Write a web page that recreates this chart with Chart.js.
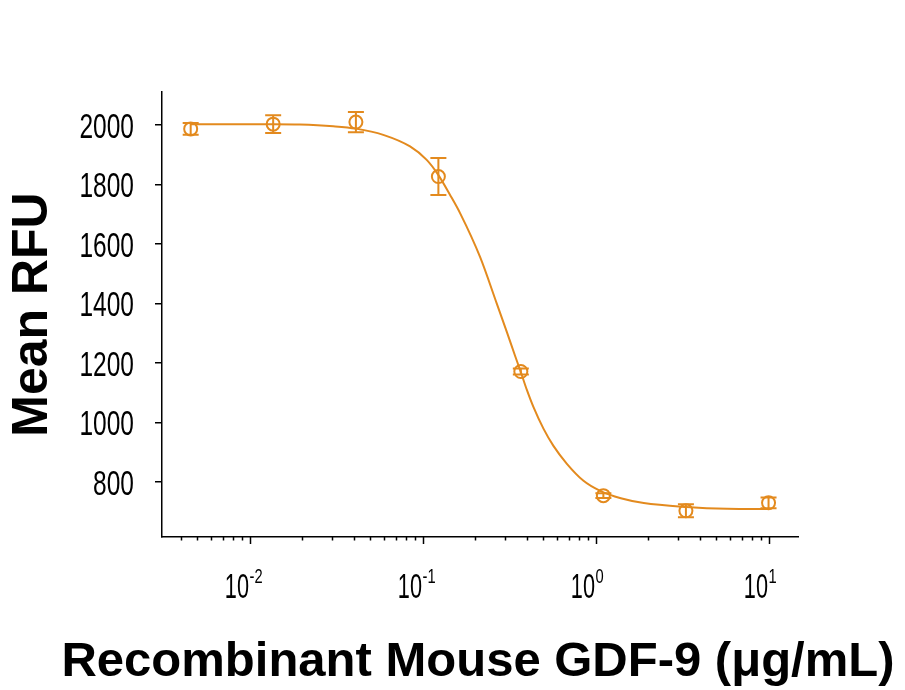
<!DOCTYPE html>
<html>
<head>
<meta charset="utf-8">
<title>GDF-9 dose response</title>
<script src="https://cdn.jsdelivr.net/npm/chart.js@4.4.1/dist/chart.umd.min.js"></script>
<style>
  html, body { margin:0; padding:0; background:#fff; }
  #wrap { width:905px; height:690px; }
</style>
</head>
<body>
<div id="wrap"><canvas id="gdfChart" width="905" height="690"></canvas></div>
<script>
// ============================================================
// Data
// ============================================================
const doses   = [0.00457, 0.0137, 0.0412, 0.1235, 0.370, 1.11, 3.33, 10];
const meanRfu = [1987, 2003, 2010, 1827, 1172, 755, 704, 731];
const errRfu  = [20, 30, 34, 62, 10, 8, 22, 18];

// fitted curve
const fitDoses = [0.00457, 0.0137, 0.0195, 0.0305, 0.0412, 0.0593, 0.0847, 0.1057, 0.1225, 0.1443, 0.1648,
                  0.2153, 0.2687, 0.307, 0.343, 0.370, 0.401, 0.438, 0.500, 0.571, 0.683, 0.852, 1.065,
                  1.40, 1.90, 3.35, 5.76, 10];
const fitRfu   = [2003, 2003, 2002, 1996, 1988, 1967, 1928, 1883, 1835, 1765, 1704,
                  1556, 1400, 1305, 1224, 1170, 1110, 1052, 980, 922, 862, 805, 771,
                  746, 730, 717, 711, 710];

const yTicks      = [800, 1000, 1200, 1400, 1600, 1800, 2000];
const xDecades    = [0.01, 0.1, 1, 10];
const xDecadeExp  = ['-2', '-1', '0', '1'];
const minorSteps  = [2, 3, 4, 5, 6, 7, 8, 9];
const minorBases  = [0.001, 0.01, 0.1, 1];

const xTitle = 'Recombinant Mouse GDF-9 (μg/mL)';
const yTitle = 'Mean RFU';

const ORANGE = '#e38a1e';
const FONT = 'Liberation Sans, Arial, sans-serif';

// draws text squeezed horizontally (the original uses a condensed face)
function squeezeText(ctx, text, x, y, font, sx, align) {
  ctx.save();
  ctx.font = font;
  ctx.fillStyle = '#000';
  ctx.textAlign = align;
  ctx.textBaseline = 'alphabetic';
  ctx.translate(x, y);
  ctx.scale(sx, 1);
  ctx.fillText(text, 0, 0);
  ctx.restore();
}

// error bars, log-axis tick marks, tick labels and x title
const axisDecor = {
  id: 'axisDecor',
  afterDatasetsDraw(chart) {
    const { ctx, scales: { x, y } } = chart;
    ctx.save();
    ctx.strokeStyle = ORANGE;
    ctx.lineWidth = 2;
    doses.forEach((d, i) => {
      const px  = x.getPixelForValue(d);
      const top = y.getPixelForValue(meanRfu[i] + errRfu[i]);
      const bot = y.getPixelForValue(meanRfu[i] - errRfu[i]);
      ctx.beginPath();
      ctx.moveTo(px, top);     ctx.lineTo(px, bot);
      ctx.moveTo(px - 8, top); ctx.lineTo(px + 8, top);
      ctx.moveTo(px - 8, bot); ctx.lineTo(px + 8, bot);
      ctx.stroke();
    });
    ctx.restore();
  },
  afterDraw(chart) {
    const { ctx, scales: { x, y }, chartArea } = chart;
    const base = chartArea.bottom;
    ctx.save();
    ctx.strokeStyle = '#000';
    ctx.lineWidth = 1.5;

    // minor ticks
    minorBases.forEach(b => minorSteps.forEach(m => {
      const v = b * m;
      if (v < x.min || v > x.max) return;
      const px = Math.round(x.getPixelForValue(v)) + 0.5;
      ctx.beginPath(); ctx.moveTo(px, base); ctx.lineTo(px, base + 3.5); ctx.stroke();
    }));
    // major ticks + labels
    xDecades.forEach((v, i) => {
      const px = Math.round(x.getPixelForValue(v)) + 0.5;
      ctx.beginPath(); ctx.moveTo(px, base); ctx.lineTo(px, base + 7); ctx.stroke();
      squeezeText(ctx, '10', px - 1.5, base + 61, '35px ' + FONT, 0.62, 'right');
      squeezeText(ctx, xDecadeExp[i], px - 1, base + 46, '21px ' + FONT, 0.7, 'left');
    });

    // y labels
    yTicks.forEach(v => {
      const py = y.getPixelForValue(v);
      squeezeText(ctx, String(v), chartArea.left - 28, py + 12.5, '35px ' + FONT, 0.7, 'right');
    });

    // x title (drawn here so Chart.js does not squeeze it to the axis width)
    squeezeText(ctx, xTitle, 478, 675.5, 'bold 49px ' + FONT, 1, 'center');
    ctx.restore();
  }
};

new Chart(document.getElementById('gdfChart'), {
  type: 'scatter',
  data: {
    datasets: [
      {
        label: 'fit',
        data: fitDoses.map((d, i) => ({ x: d, y: fitRfu[i] })),
        showLine: true,
        borderColor: ORANGE,
        borderWidth: 2,
        pointRadius: 0,
        cubicInterpolationMode: 'monotone',
        fill: false
      },
      {
        label: 'mean',
        data: doses.map((d, i) => ({ x: d, y: meanRfu[i] })),
        showLine: false,
        pointRadius: 6.5,
        pointHoverRadius: 6.5,
        pointBorderWidth: 2,
        pointBorderColor: ORANGE,
        pointBackgroundColor: 'rgba(0,0,0,0)'
      }
    ]
  },
  options: {
    responsive: false,
    animation: false,
    events: [],
    layout: { padding: { top: 92, right: 107, left: 0, bottom: 0 } },
    plugins: { legend: { display: false }, tooltip: { enabled: false } },
    scales: {
      x: {
        type: 'logarithmic',
        min: 0.00312,
        max: 14.8,
        grid: { display: false },
        border: { color: '#000', width: 1.5 },
        ticks: { display: false },
        afterFit: s => { s.height = 153; }
      },
      y: {
        min: 616,
        max: 2111,
        afterBuildTicks: s => { s.ticks = yTicks.map(v => ({ value: v })); },
        grid: { drawOnChartArea: false, tickLength: 7, color: '#000', lineWidth: 1.5 },
        border: { color: '#000', width: 1.5 },
        ticks: { display: false },
        title: {
          display: true,
          text: yTitle,
          color: '#000',
          font: { family: FONT, size: 50, weight: 'bold' },
          padding: { top: 3, bottom: 0 }
        },
        afterFit: s => { s.width = 162; }
      }
    }
  },
  plugins: [axisDecor]
});
</script>
</body>
</html>
